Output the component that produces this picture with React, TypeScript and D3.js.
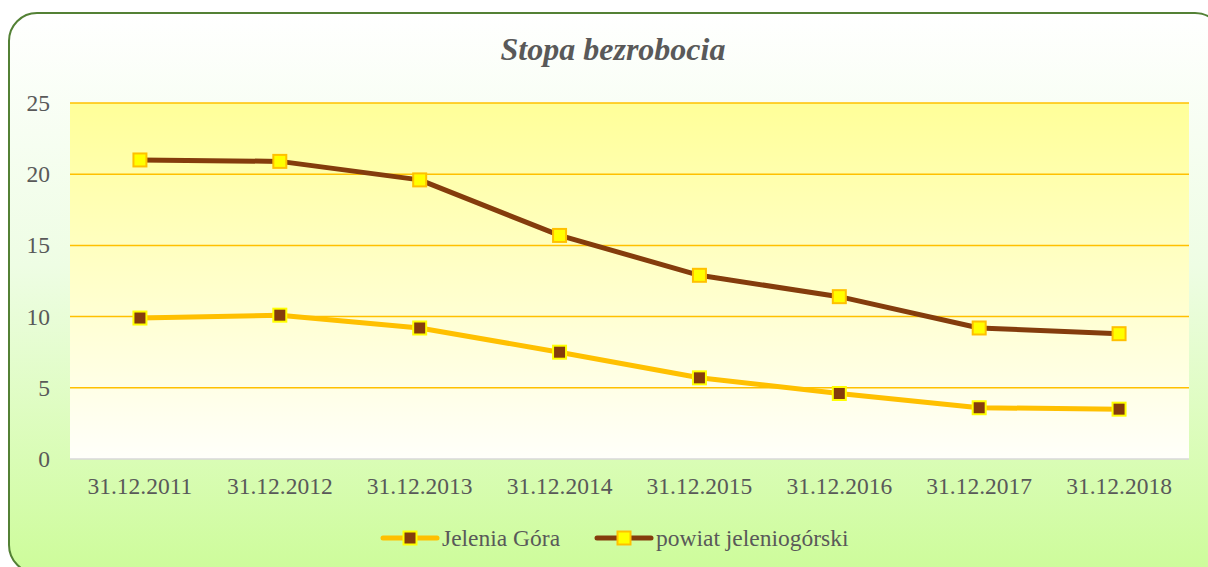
import React from "react";
import * as d3 from "d3";

const categories = ["31.12.2011", "31.12.2012", "31.12.2013", "31.12.2014", "31.12.2015", "31.12.2016", "31.12.2017", "31.12.2018"];
const jeleniaGora = [9.9, 10.1, 9.2, 7.5, 5.7, 4.6, 3.6, 3.5];
const powiat = [21.0, 20.9, 19.6, 15.7, 12.9, 11.4, 9.2, 8.8];
const yTicks = [0, 5, 10, 15, 20, 25];
const seriesNames = ["Jelenia Góra", "powiat jeleniogórski"];

const W = 1208, H = 567;
const plot = { left: 70, right: 1189, top: 103, bottom: 459 };
const FONT = "'Liberation Serif', 'Times New Roman', serif";
const TEXT = "#595959";

export default function App() {
  const x = d3.scaleBand<string>().domain(categories).range([plot.left, plot.right]);
  const y = d3.scaleLinear().domain([0, 25]).range([plot.bottom, plot.top]);
  const cx = (c: string) => (x(c) ?? 0) + x.bandwidth() / 2;
  const line = d3.line<number>()
    .x((_, i) => cx(categories[i]))
    .y((d) => y(d))
    .curve(d3.curveLinear);

  const series = [
    { name: seriesNames[0], data: jeleniaGora, stroke: "#ffc000", mFill: "#843c0c", mStroke: "#ffff00" },
    { name: seriesNames[1], data: powiat, stroke: "#843c0c", mFill: "#ffff00", mStroke: "#ffc000" },
  ];
  const legendX = [383, 597];
  const legendY = 538;
  const ms = 13;

  return (
    <div style={{ position: "fixed", left: 0, top: 0, width: W, height: H, background: "#fff" }}>
      <svg width={W} height={H} style={{ display: "block" }}>
        <defs>
          <linearGradient id="bg" x1="0" y1="0" x2="0" y2="1">
            <stop offset="0" stopColor="#ffffff" />
            <stop offset="0.45" stopColor="#eefde4" />
            <stop offset="1" stopColor="#cdfc9a" />
          </linearGradient>
          <linearGradient id="pa" x1="0" y1="0" x2="0" y2="1">
            <stop offset="0" stopColor="#ffff99" />
            <stop offset="1" stopColor="#fffffa" />
          </linearGradient>
        </defs>
        <rect x={9} y={13} width={1214} height={560} rx={28} ry={28} fill="url(#bg)" stroke="#538135" strokeWidth={2} />
        <text x={613} y={60} textAnchor="middle" fontFamily={FONT} fontSize={32} fontWeight="bold" fontStyle="italic" fill={TEXT}>Stopa bezrobocia</text>
        <rect x={plot.left} y={plot.top} width={plot.right - plot.left} height={plot.bottom - plot.top} fill="url(#pa)" />
        {yTicks.map((t) => (
          <g key={t}>
            {t > 0 && <line x1={plot.left} x2={plot.right} y1={y(t)} y2={y(t)} stroke="#ffc000" strokeWidth={1.5} />}
            <text x={50} y={y(t) + 8} textAnchor="end" fontFamily={FONT} fontSize={23.5} fill={TEXT}>{t}</text>
          </g>
        ))}
        <line x1={plot.left} x2={plot.right} y1={y(0)} y2={y(0)} stroke="#d9d9d9" strokeWidth={1.5} />
        {categories.map((c) => (
          <text key={c} x={cx(c)} y={494} textAnchor="middle" fontFamily={FONT} fontSize={23.5} fill={TEXT}>{c}</text>
        ))}
        {series.map((s) => (
          <g key={s.name}>
            <path d={line(s.data) ?? ""} fill="none" stroke={s.stroke} strokeWidth={5} strokeLinejoin="round" />
            {s.data.map((v, i) => (
              <rect key={i} x={cx(categories[i]) - ms / 2} y={y(v) - ms / 2} width={ms} height={ms} fill={s.mFill} stroke={s.mStroke} strokeWidth={2} />
            ))}
          </g>
        ))}
        {series.map((s, k) => (
          <g key={"lg" + k}>
            <line x1={legendX[k]} x2={legendX[k] + 54} y1={legendY} y2={legendY} stroke={s.stroke} strokeWidth={5} strokeLinecap="round" />
            <rect x={legendX[k] + 27 - ms / 2} y={legendY - ms / 2} width={ms} height={ms} fill={s.mFill} stroke={s.mStroke} strokeWidth={2} />
            <text x={legendX[k] + 59} y={legendY + 8} fontFamily={FONT} fontSize={23.5} fill={TEXT}>{s.name}</text>
          </g>
        ))}
      </svg>
    </div>
  );
}
